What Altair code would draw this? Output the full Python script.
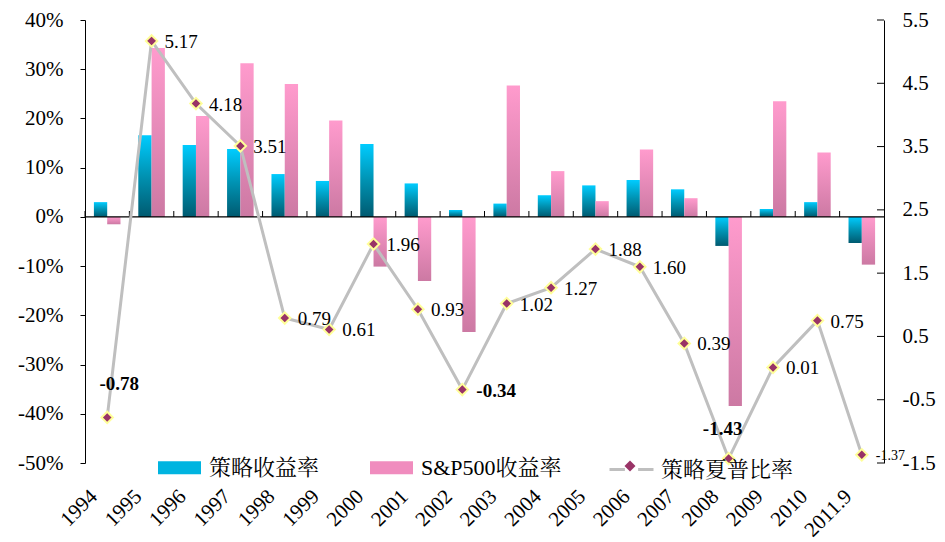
import altair as alt
import pandas as pd

# ---- data -------------------------------------------------------------
years = ["1994", "1995", "1996", "1997", "1998", "1999", "2000", "2001", "2002",
         "2003", "2004", "2005", "2006", "2007", "2008", "2009", "2010", "2011.9"]

# annual returns, in percent
strategy_ret = [3.0, 16.6, 14.6, 13.8, 8.7, 7.3, 14.8, 6.8, 1.4,
                2.7, 4.4, 6.4, 7.5, 5.6, -5.9, 1.6, 3.0, -5.3]
sp500_ret = [-1.5, 34.3, 20.5, 31.2, 27.0, 19.6, -10.1, -13.0, -23.4,
             26.7, 9.3, 3.2, 13.7, 3.8, -38.4, 23.5, 13.1, -9.7]

# strategy Sharpe ratio (right axis)
sharpe = [-0.78, 5.17, 4.18, 3.51, 0.79, 0.61, 1.96, 0.93, -0.34,
          1.02, 1.27, 1.88, 1.60, 0.39, -1.43, 0.01, 0.75, -1.37]

series_order = ["策略收益率", "S&P500收益率"]
line_name = "策略夏普比率"

left_ticks = [-50, -40, -30, -20, -10, 0, 10, 20, 30, 40]
right_ticks = [-1.5, -0.5, 0.5, 1.5, 2.5, 3.5, 4.5, 5.5]

bars_df = pd.DataFrame({
    "year": years * 2,
    "series": [series_order[0]] * len(years) + [series_order[1]] * len(years),
    "ret": strategy_ret + sp500_ret,
})
line_df = pd.DataFrame({
    "year": years,
    "sharpe": sharpe,
    "label": [f"{v:.2f}" for v in sharpe],
    "name": line_name,
    "marker": line_name,
})

# ---- styling ----------------------------------------------------------
SERIF = "Liberation Serif"
CJK = "Liberation Serif, Noto Serif CJK SC, Noto Sans CJK SC"

cyan_grad = alt.LinearGradient(
    gradient="linear", x1=0, x2=0, y1=0, y2=1,
    stops=[alt.GradientStop(color="#00CCFF", offset=0),
           alt.GradientStop(color="#0092B2", offset=0.5),
           alt.GradientStop(color="#005A70", offset=1)])
pink_grad = alt.LinearGradient(
    gradient="linear", x1=0, x2=0, y1=0, y2=1,
    stops=[alt.GradientStop(color="#FF9BCD", offset=0),
           alt.GradientStop(color="#CC79A3", offset=1)])

x_axis = alt.Axis(title=None, labelAngle=315, labelAlign="right",
                  labelBaseline="middle", domain=False, ticks=False,
                  tickSize=0, labelPadding=30, labelOffset=-13,
                  labelFont=SERIF, labelFontSize=21, labelColor="black",
                  labelOverlap=False, labelBound=False)
x_enc = alt.X("year:N", sort=years,
              scale=alt.Scale(paddingInner=0, paddingOuter=0), axis=x_axis)
x_edge = alt.X("year:N", sort=years, bandPosition=0,
               scale=alt.Scale(paddingInner=0, paddingOuter=0), axis=x_axis)
xoff = alt.XOffset("series:N", sort=series_order,
                   scale=alt.Scale(domain=series_order, paddingInner=0,
                                   paddingOuter=0.67))

left_scale = alt.Scale(domain=[-50, 40], nice=False, zero=False)
y_left = alt.Y("ret:Q", scale=left_scale, stack=None,
               axis=alt.Axis(title=None, values=left_ticks,
                             labelExpr="datum.value + '%'",
                             tickSize=5, labelPadding=17,
                             labelFont=SERIF, labelFontSize=21,
                             labelColor="black", domainColor="black",
                             tickColor="black"))

right_scale = alt.Scale(domain=[-1.5, 5.5], nice=False, zero=False)
y_right = alt.Y("sharpe:Q", scale=right_scale,
                axis=alt.Axis(title=None, orient="right", values=right_ticks,
                              labelExpr="(datum.value < 0 ? '-' : '') + format(abs(datum.value), '.1f')",
                              ticks=False, tickSize=0, labelPadding=18,
                              labelFont=SERIF, labelFontSize=21,
                              labelColor="black", domainColor="black"))

# ---- bar group (left axis) --------------------------------------------
legend_bars = alt.Chart(bars_df).mark_bar(opacity=0).encode(
    x=x_enc, xOffset=xoff, y=y_left, y2=alt.datum(0),
    color=alt.Color("series:N",
                    scale=alt.Scale(domain=series_order,
                                    range=["#00B4E0", "#F08CBE"]),
                    legend=alt.Legend(orient="none", legendX=73, legendY=426,
                                      direction="horizontal", title=None,
                                      padding=0, symbolOpacity=1,
                                      symbolType="M-1,-0.3H1V0.3H-1Z",
                                      symbolSize=1849, symbolStrokeWidth=0,
                                      labelOffset=8, columnPadding=50,
                                      labelFont=CJK, labelFontSize=22,
                                      labelColor="black")))

strategy_bars = alt.Chart(bars_df).transform_filter(
    alt.datum.series == series_order[0]
).mark_bar(fill=cyan_grad).encode(x=x_enc, xOffset=xoff, y=y_left, y2=alt.datum(0))

sp_bars = alt.Chart(bars_df).transform_filter(
    alt.datum.series == series_order[1]
).mark_bar(fill=pink_grad).encode(x=x_enc, xOffset=xoff, y=y_left, y2=alt.datum(0))

zero_line = alt.Chart(pd.DataFrame({"z": [0]})).mark_rule(
    color="black", strokeWidth=1.2
).encode(y=alt.Y("z:Q", scale=left_scale))

edge_ticks = alt.Chart(pd.DataFrame({"year": years, "z": 0})).mark_tick(
    orient="vertical", color="black", size=6, thickness=1, opacity=1, yOffset=-3
).encode(x=x_edge, y=alt.Y("z:Q", scale=left_scale))

left_group = alt.layer(legend_bars, strategy_bars, sp_bars, zero_line, edge_ticks)

# ---- Sharpe line group (right axis) -----------------------------------
line = alt.Chart(line_df).mark_line(strokeWidth=3).encode(
    x=x_enc, y=y_right,
    stroke=alt.Stroke("name:N", scale=alt.Scale(range=["#BFBFBF"]),
                      legend=alt.Legend(orient="none", legendX=523, legendY=426,
                                        direction="horizontal", title=None,
                                        padding=0,
                                        symbolType="M-1,0H-0.3M0.3,0H1",
                                        symbolSize=1936, symbolStrokeWidth=3,
                                        symbolFillColor="transparent",
                                        labelOffset=6, labelFont=CJK,
                                        labelFontSize=22, labelColor="black")))

points = alt.Chart(line_df).mark_point(
    filled=True, fill="#993366", stroke="#FFFF99", strokeWidth=2,
    size=130, opacity=1
).encode(
    x=x_enc, y=y_right,
    shape=alt.Shape("marker:N", scale=alt.Scale(range=["diamond"]),
                    legend=alt.Legend(orient="none", legendX=534, legendY=435,
                                      direction="horizontal", title=None,
                                      padding=0, symbolFillColor="#993366",
                                      symbolStrokeColor="#FFFF99",
                                      symbolStrokeWidth=2, symbolSize=120,
                                      symbolOpacity=1, labelExpr="' '",
                                      labelFontSize=22)))

right_ticks_marks = alt.Chart(pd.DataFrame({"t": right_ticks})).mark_tick(
    orient="horizontal", color="black", size=7, thickness=1, opacity=1, xOffset=-3.5
).encode(x=alt.value("width"), y=alt.Y("t:Q", scale=right_scale))


def value_labels(cond, **style):
    base = dict(baseline="middle", font=SERIF, fontSize=19, color="black")
    base.update(style)
    return alt.Chart(line_df).transform_filter(cond).mark_text(**base).encode(
        x=x_enc, y=y_right, text="label:N")


labels_pos = value_labels("datum.sharpe >= 0", align="left", dx=13, dy=1)
label_1994 = value_labels("datum.year == '1994'", align="center", dx=12,
                          dy=-33, fontWeight="bold")
label_2002 = value_labels("datum.year == '2002'", align="left", dx=14, dy=1,
                          fontWeight="bold")
label_2008 = value_labels("datum.year == '2008'", align="center", dx=-6,
                          dy=-30, fontWeight="bold")
label_2011 = value_labels("datum.year == '2011.9'", align="left", dx=14, dy=1,
                          fontSize=14)

right_group = alt.layer(line, points, right_ticks_marks, labels_pos,
                        label_1994, label_2002, label_2008, label_2011)

chart = alt.layer(left_group, right_group).resolve_scale(
    y="independent"
).properties(
    width=799, height=443,
    autosize=alt.AutoSizeParams(type="none"),
    padding={"left": 85, "top": 20, "right": 61, "bottom": 79},
).configure_view(stroke=None).configure_axis(grid=False)

chart.save("out.html", embed_options={"renderer": "svg", "actions": False})
